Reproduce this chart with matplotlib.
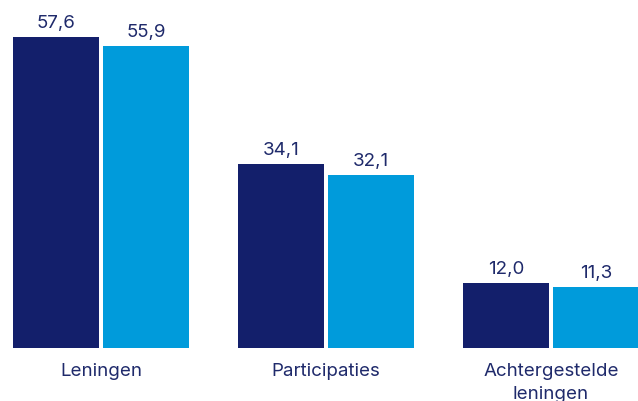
import numpy as np
import matplotlib.pyplot as plt

categories = ['Leningen', 'Participaties', 'Achtergestelde\nleningen']
series_a = [57.6, 34.1, 12.0]
series_b = [55.9, 32.1, 11.3]

dark = '#131f6b'
light = '#009bdb'
text_col = '#1f2a6b'

plt.rcParams['font.family'] = ['Inter', 'DejaVu Sans']

fig = plt.figure(figsize=(6.38, 4.02), dpi=100)
ax = fig.add_axes([0, 53 / 402, 1, 349 / 402])

x = np.arange(len(categories))
w = 86 / 225
off = 45 / 225

bars_a = ax.bar(x - off, series_a, w, color=dark)
bars_b = ax.bar(x + off, series_b, w, color=light)

for bars in (bars_a, bars_b):
    for b in bars:
        ax.text(b.get_x() + b.get_width() / 2, b.get_height() + 1.1,
                f'{b.get_height():.1f}'.replace('.', ','),
                ha='center', va='bottom', fontsize=13.5, color=text_col)

ax.set_xlim(-101 / 225, (638 - 101) / 225)
ax.set_ylim(0, 349 / 5.4)
ax.set_xticks(x)
ax.set_xticklabels(categories, fontsize=13.5, color=text_col, linespacing=1.45)
ax.tick_params(axis='x', length=0, pad=10)
ax.set_yticks([])
for s in ax.spines.values():
    s.set_visible(False)

fig.savefig('out.png', dpi=100)
